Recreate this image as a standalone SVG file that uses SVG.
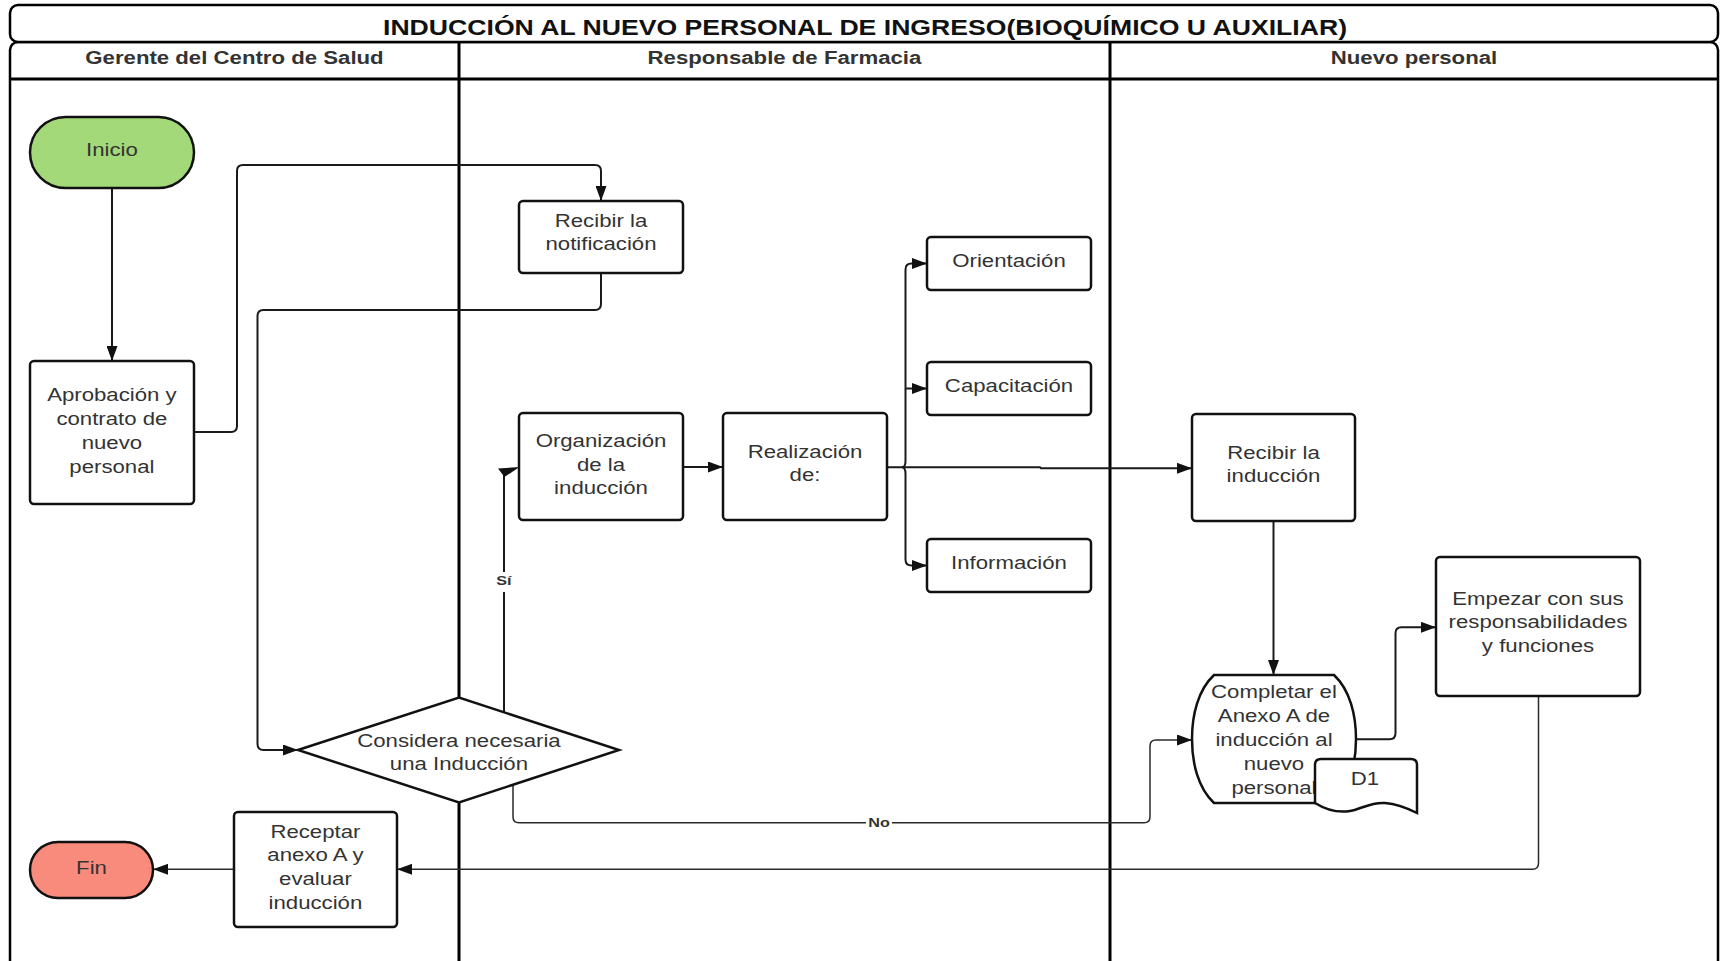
<svg xmlns="http://www.w3.org/2000/svg" width="1722" height="961" viewBox="0 0 1722 961">
  <style>
    .frame { fill: #fff; stroke: #000; stroke-width: 2.5; }
    .rule { fill: none; stroke: #000; stroke-width: 3; }
    .node { fill: #fff; stroke: #111; stroke-width: 2.5; }
    .c { fill: none; stroke: #1a1a1a; stroke-width: 2; }
    .thin { fill: none; stroke: #2a2a2a; stroke-width: 1.5; }
    .t, .h, .lbl, .title {
      font-family: "Liberation Sans", Arial, Helvetica, sans-serif;
      text-anchor: middle;
      transform-box: fill-box;
      transform-origin: center;
      transform: scaleX(1.2);
    }
    .t { font-size: 18.5px; fill: #333; }
    .h { font-size: 18.5px; font-weight: bold; fill: #333; }
    .lbl { font-size: 13.5px; font-weight: bold; fill: #333; }
    .title { font-size: 21.5px; font-weight: bold; fill: #111; transform: none; }
  </style>
  <defs>
    <marker id="arrow" markerUnits="userSpaceOnUse" markerWidth="15" markerHeight="11" refX="15" refY="5.5" orient="auto">
      <path d="M0,0 L15,5.5 L0,11 Z" fill="#111"/>
    </marker>
  </defs>

  <rect width="1722" height="961" fill="#fff"/>

  <!-- swimlane frame -->
  <g id="pool">
    <rect class="frame" x="10" y="42" width="1708" height="960" rx="8"/>
    <rect class="frame" x="10" y="5" width="1708" height="37" rx="8"/>
    <line class="rule" x1="10" y1="79" x2="1718" y2="79"/>
    <line class="rule" x1="459" y1="42" x2="459" y2="961"/>
    <line class="rule" x1="1110" y1="42" x2="1110" y2="961"/>
    <text class="title" x="865" y="35" textLength="964" lengthAdjust="spacingAndGlyphs">INDUCCIÓN AL NUEVO PERSONAL DE INGRESO(BIOQUÍMICO U AUXILIAR)</text>
    <text class="h" x="234.5" y="64.5">Gerente del Centro de Salud</text>
    <text class="h" x="784.5" y="64.5">Responsable de Farmacia</text>
    <text class="h" x="1414" y="64.5">Nuevo personal</text>
  </g>

  <!-- connectors -->
  <g id="connectors">
    <path class="c" d="M112,188 V361" marker-end="url(#arrow)"/>
    <path class="c" d="M194,432 H231 Q237,432 237,426 V171 Q237,165 243,165 H595 Q601,165 601,171 V201" marker-end="url(#arrow)"/>
    <path class="c" d="M601,273 V304 Q601,310 595,310 H263.5 Q257.5,310 257.5,316 V744 Q257.5,750 263.5,750 H298" marker-end="url(#arrow)"/>
    <!-- Sí branch -->
    <path class="c" d="M504,712 V474"/>
    <polygon points="498,468.5 519.5,467 504.5,477" fill="#111"/>
    <rect x="494" y="572" width="20" height="20" fill="#fff"/>
    <text class="lbl" x="504" y="585">Sí</text>
    <!-- No branch -->
    <path class="thin" d="M513,785 V817 Q513,822.7 519,822.7 H1144 Q1150,822.7 1150,816.7 V746 Q1150,740 1156,740 H1192" marker-end="url(#arrow)"/>
    <rect x="866" y="814" width="26" height="17" fill="#fff"/>
    <text class="lbl" x="879" y="827">No</text>
    <path class="c" d="M683,467 H723" marker-end="url(#arrow)"/>
    <path class="c" d="M887,467.3 H1040 L1041,468.3 H1192" marker-end="url(#arrow)"/>
    <!-- fan-out to the three induction topics -->
    <path class="c" d="M902,467.3 Q905.5,467.3 905.5,461 V269.5 Q905.5,263.5 911.5,263.5 H927" marker-end="url(#arrow)"/>
    <path class="c" d="M905.5,388.5 H927" marker-end="url(#arrow)"/>
    <path class="c" d="M902,467.3 Q905.5,467.3 905.5,474 V559.5 Q905.5,565.5 911.5,565.5 H927" marker-end="url(#arrow)"/>
    <path class="c" d="M1273.5,521 V675" marker-end="url(#arrow)"/>
    <path class="c" d="M1356,739.3 H1389.5 Q1395.5,739.3 1395.5,733.3 V633.3 Q1395.5,627.3 1401.5,627.3 H1436" marker-end="url(#arrow)"/>
    <path class="thin" d="M1538.5,696 V863 Q1538.5,869.3 1532.5,869.3 H397" marker-end="url(#arrow)"/>
    <path class="thin" d="M234,869.3 H153" marker-end="url(#arrow)"/>
  </g>

  <g id="inicio">
    <rect class="node" x="30" y="117" width="164" height="71" rx="35.5" style="fill:#a3d978"/>
    <text class="t" x="112" y="156">Inicio</text>
  </g>

  <g id="aprobacion">
    <rect class="node" x="30" y="361" width="164" height="143" rx="4"/>
    <text class="t" x="112"><tspan x="112" y="401.5">Aprobación y</tspan><tspan x="112" y="425.5">contrato de</tspan><tspan x="112" y="449">nuevo</tspan><tspan x="112" y="473">personal</tspan></text>
  </g>

  <g id="recibir-notificacion">
    <rect class="node" x="519" y="201" width="164" height="72" rx="4"/>
    <text class="t" x="601"><tspan x="601" y="227">Recibir la</tspan><tspan x="601" y="250.5">notificación</tspan></text>
  </g>

  <g id="organizacion">
    <rect class="node" x="519" y="413" width="164" height="107" rx="4"/>
    <text class="t" x="601"><tspan x="601" y="447">Organización</tspan><tspan x="601" y="471">de la</tspan><tspan x="601" y="494.5">inducción</tspan></text>
  </g>

  <g id="realizacion">
    <rect class="node" x="723" y="413" width="164" height="107" rx="4"/>
    <text class="t" x="805"><tspan x="805" y="458">Realización</tspan><tspan x="805" y="481.5">de:</tspan></text>
  </g>

  <g id="orientacion">
    <rect class="node" x="927" y="237" width="164" height="53" rx="4"/>
    <text class="t" x="1009" y="267.5">Orientación</text>
  </g>

  <g id="capacitacion">
    <rect class="node" x="927" y="362" width="164" height="53" rx="4"/>
    <text class="t" x="1009" y="392">Capacitación</text>
  </g>

  <g id="informacion">
    <rect class="node" x="927" y="539" width="164" height="53" rx="4"/>
    <text class="t" x="1009" y="569">Información</text>
  </g>

  <g id="decision">
    <polygon class="node" points="298,750 459,697.5 619,750 459,802.5"/>
    <text class="t" x="459"><tspan x="459" y="747">Considera necesaria</tspan><tspan x="459" y="770.5">una Inducción</tspan></text>
  </g>

  <g id="receptar">
    <rect class="node" x="234" y="812" width="163" height="115" rx="4"/>
    <text class="t" x="315.5"><tspan x="315.5" y="838">Receptar</tspan><tspan x="315.5" y="861.5">anexo A y</tspan><tspan x="315.5" y="885">evaluar</tspan><tspan x="315.5" y="909">inducción</tspan></text>
  </g>

  <g id="fin">
    <rect class="node" x="30" y="842" width="123" height="56" rx="28" style="fill:#f98b7c"/>
    <text class="t" x="91.5" y="874.5">Fin</text>
  </g>

  <g id="recibir-induccion">
    <rect class="node" x="1192" y="414" width="163" height="107" rx="4"/>
    <text class="t" x="1273.5"><tspan x="1273.5" y="459">Recibir la</tspan><tspan x="1273.5" y="482">inducción</tspan></text>
  </g>

  <g id="completar">
    <path class="node" d="M1214,675 H1334 C1350,690 1356,715 1356,739 C1356,763 1350,788 1334,803 H1214 C1198,788 1192,763 1192,739 C1192,715 1198,690 1214,675 Z"/>
    <text class="t" x="1274"><tspan x="1274" y="698.5">Completar el</tspan><tspan x="1274" y="722.5">Anexo A de</tspan><tspan x="1274" y="746.5">inducción al</tspan><tspan x="1274" y="770.5">nuevo</tspan><tspan x="1274" y="794">personal</tspan></text>
  </g>

  <g id="d1">
    <path class="node" d="M1315,803 V765 Q1315,759 1321,759 H1411 Q1417,759 1417,765 V813 C1407,808 1397,804 1385,803 C1370,802 1362,809 1350,811 C1338,813 1328,811 1315,803 Z"/>
    <text class="t" x="1365" y="785">D1</text>
  </g>

  <g id="empezar">
    <rect class="node" x="1436" y="557" width="204" height="139" rx="4"/>
    <text class="t" x="1538"><tspan x="1538" y="605.5">Empezar con sus</tspan><tspan x="1538" y="628">responsabilidades</tspan><tspan x="1538" y="652">y funciones</tspan></text>
  </g>
</svg>
